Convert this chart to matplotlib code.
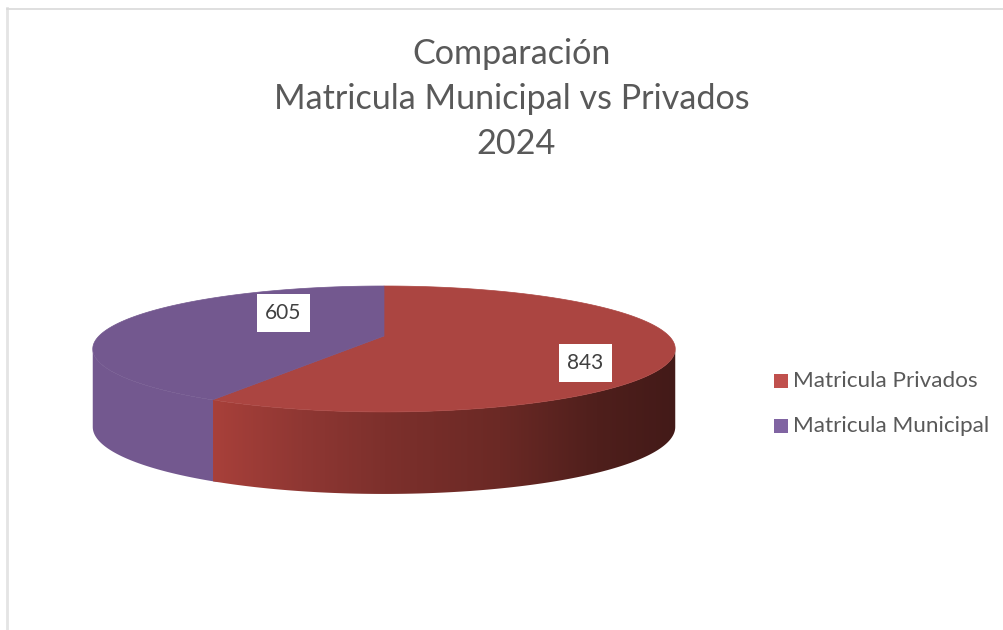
import matplotlib
matplotlib.use("Agg")
import matplotlib.pyplot as plt
import numpy as np
from matplotlib.colors import LinearSegmentedColormap
from matplotlib.patches import Polygon, Rectangle

title_lines = ["Comparación", "Matricula Municipal vs Privados", "2024"]
labels = ["Matricula Privados", "Matricula Municipal"]
values = [843, 605]
top_colors = ["#ab4541", "#73588f"]
legend_colors = ["#c0504d", "#8064a2"]

plt.rcParams["font.family"] = ["Lato", "DejaVu Sans"]

fig = plt.figure(figsize=(10.04, 6.3), dpi=100)
ax = fig.add_axes([0, 0, 1, 1])
ax.set_xlim(0, 1004)
ax.set_ylim(630, 0)
ax.axis("off")

# frame, only top and left are in the picture
ax.plot([7.5, 7.5], [630, 8], color="#e4e4e4", lw=2)
ax.plot([7.5, 1004], [8.5, 8.5], color="#d9d9d9", lw=1.2)

# perspective disc: angle is clockwise from 12 o'clock
cx, cy = 384, 336
A, B, k = 285, 60.3, 0.206


def project(theta):
    u = np.sin(theta)
    v = -np.cos(theta)
    s = 1 / (1 - k * v)
    return cx + A * u * s, cy + B * v * s


def rim_depth(theta):
    return 77 * (1 - 0.065 * np.cos(theta))


edges = np.cumsum([0] + values) / sum(values) * 2 * np.pi
side_cmap = LinearSegmentedColormap.from_list(
    "side",
    [(0, "#a8403a"), (0.19, "#8f3733"), (0.37, "#7d302c"), (0.62, "#6b2925"), (0.83, "#4f1f1c"), (1, "#431a18")],
)
theta_right = np.pi - np.arccos(k)
theta_left = np.pi + np.arccos(k)

# purple rim, goes a little under the red one so no seam shows
t = np.linspace(edges[1] - 0.02, theta_left, 100)
x, y = project(t)
ax.add_patch(Polygon(np.r_[np.c_[x, y], np.c_[x, y + rim_depth(t)][::-1]], closed=True,
                     fc=top_colors[1], ec="none", zorder=1))

# red rim, shaded from left to right
t = np.linspace(theta_right, edges[1], 200)
x, y = project(t)
y2 = y + rim_depth(t)
red_side = Polygon(np.r_[np.c_[x, y], np.c_[x, y2][::-1]], closed=True, fc="none", ec="none")
ax.add_patch(red_side)
img = ax.imshow(np.linspace(0, 1, 256)[None, :], cmap=side_cmap, aspect="auto",
                extent=[x.min(), x.max(), y2.max(), y.min() - 5], zorder=2)
img.set_clip_path(red_side)
ax.set_xlim(0, 1004)
ax.set_ylim(630, 0)

# top faces
for i in range(len(values)):
    t = np.linspace(edges[i], edges[i + 1], 200)
    x, y = project(t)
    ax.add_patch(Polygon(np.r_[[[cx, cy]], np.c_[x, y]], closed=True, fc=top_colors[i],
                         ec=top_colors[i], lw=0.5, zorder=3))

# data labels
label_pos = [(585.5, 363), (283.5, 313)]
for val, (lx, ly) in zip(values, label_pos):
    ax.add_patch(Rectangle((lx - 26.5, ly - 19), 53, 38, fc="white", ec="none", zorder=4))
    ax.text(lx, ly, str(val), ha="center", va="center", fontsize=15, color="#404040", zorder=5)

# title
for line, tx, ty in zip(title_lines, [512, 512, 516], [64, 109, 154]):
    ax.text(tx, ty, line, ha="center", va="baseline", fontsize=24.6, color="#595959")

# legend
for lab, col, ly in zip(labels, legend_colors, [381, 426]):
    ax.add_patch(Rectangle((774, ly - 7), 14, 14, fc=col, ec="none"))
    ax.text(793, ly, lab, ha="left", va="center", fontsize=16.2, color="#595959")

fig.savefig("out.png", dpi=100)
